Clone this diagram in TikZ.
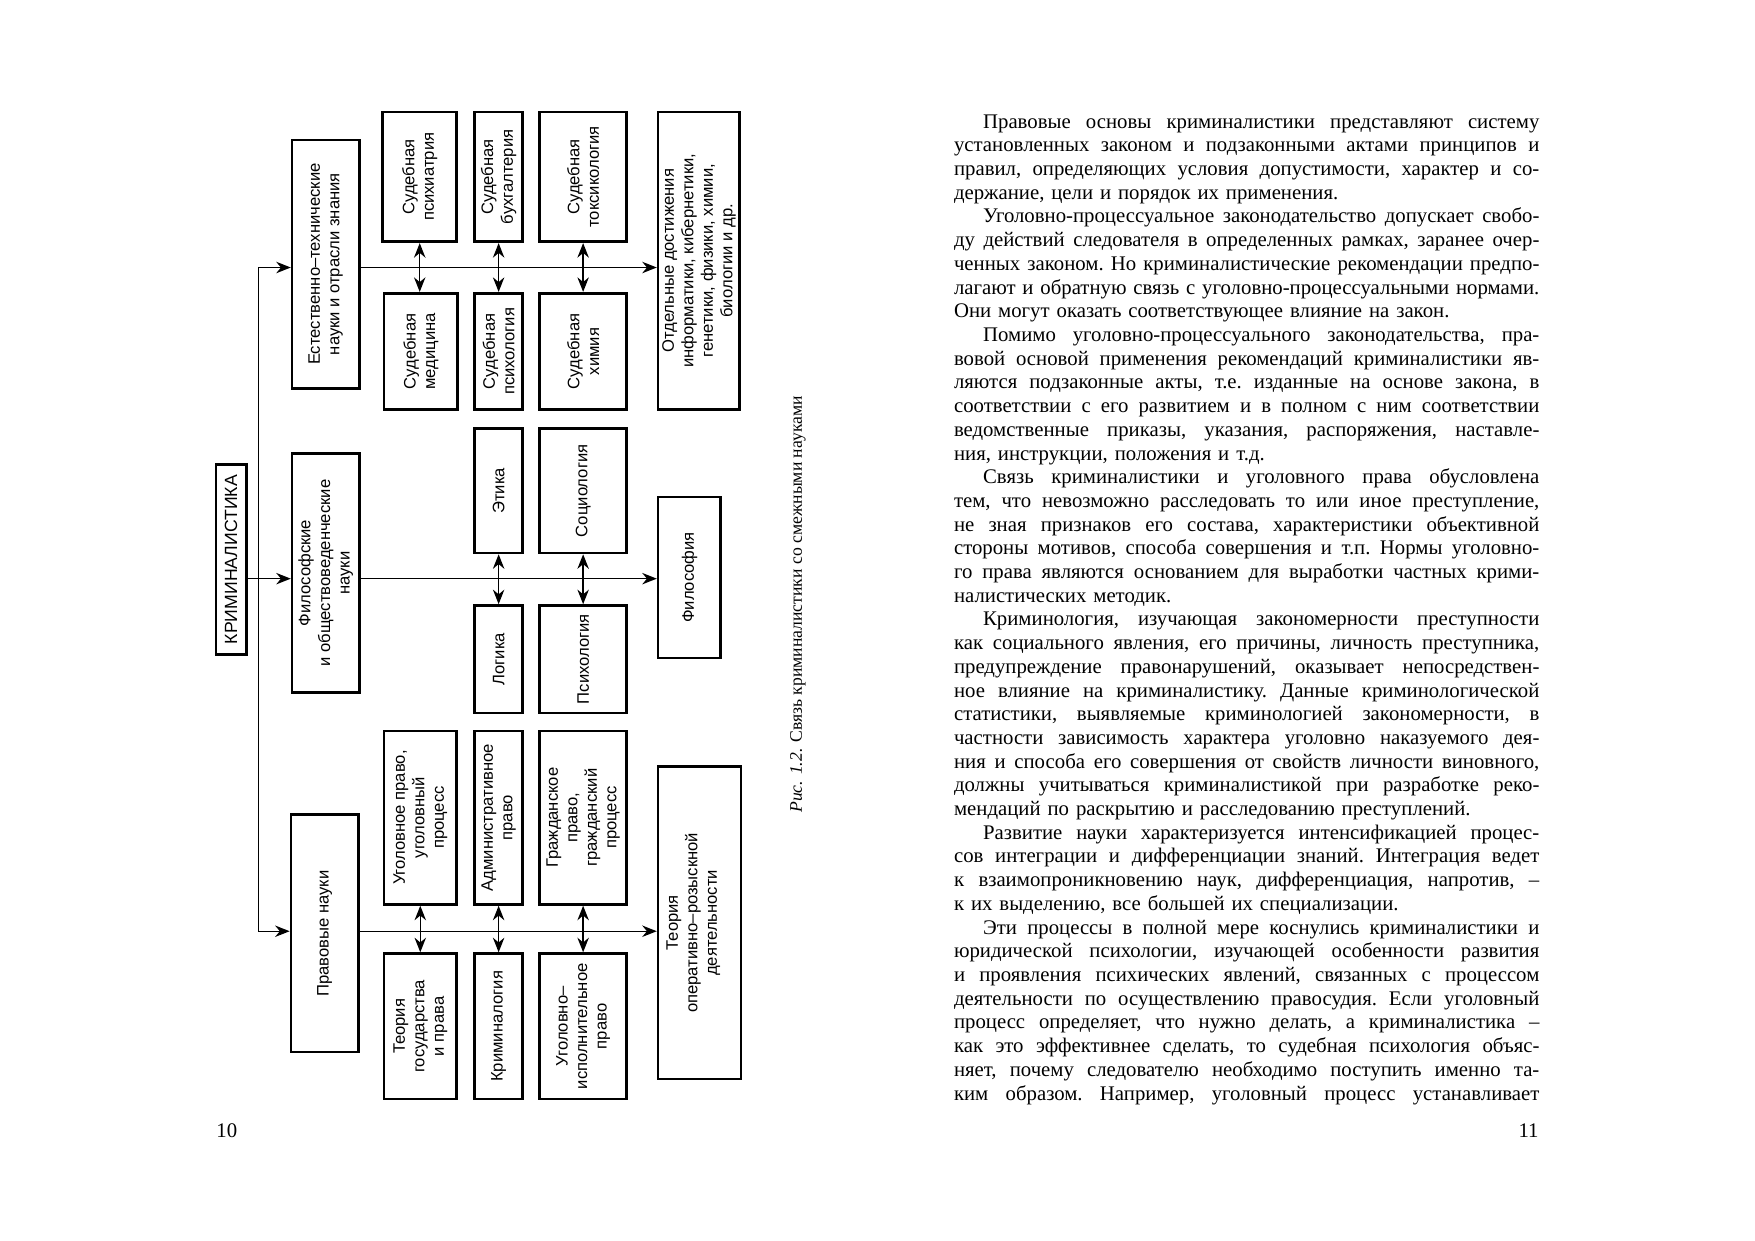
\documentclass[tikz,border=0pt]{standalone}
\usepackage{fontspec}
\setmainfont{Liberation Serif}
\setsansfont{Liberation Sans}
\usetikzlibrary{arrows.meta}
\newdimen\pu \pu=0.0189413cm
\newdimen\bodywd \bodywd=523\pu
\newcommand\jline[1]{\hbox to\bodywd{\spaceskip=0.25em plus 0.6em minus 0.08em\relax #1}}
\newcommand\eline[1]{\hbox to\bodywd{#1\hfil}}
\newcommand\firstind{\hskip 26\pu}
\tikzset{
  box/.style={draw, line width=1.3pt, rotate=90, inner sep=0pt, align=center,
    font=\sffamily\fontsize{8}{9.4}\selectfont},
  link/.style={line width=0.7pt, line join=miter, -{Stealth[length=7pt,width=5.5pt]}},
  twoway/.style={line width=0.7pt, {Stealth[length=7pt,width=5.5pt]}-{Stealth[length=7pt,width=5.5pt]}}
}
\begin{document}
\begin{tikzpicture}[x=0.0189413cm, y=-0.0189413cm]
    \useasboundingbox (0,0) rectangle (1568,1108);
    \fill[white] (0,0) rectangle (1568,1108);

    % left page: scheme
    \node[box, font=\sffamily\fontsize{8.5}{10}\selectfont, minimum width=170\pu, minimum height=27\pu] (krim) at (206.5,500) {КРИМИНАЛИСТИКА};

    \node[box, minimum width=222\pu, minimum height=60\pu] (est) at (291,236) {Естественно–технические\\науки и отрасли знания};
    \node[box, minimum width=214\pu, minimum height=60\pu] (fil) at (291,512) {Философские\\и обществоведенческие\\науки};
    \node[box, minimum width=212\pu, minimum height=60\pu] (prav) at (290,834) {Правовые науки};

    \node[box, minimum width=116\pu, minimum height=66\pu] (psych) at (375,158) {Судебная\\психиатрия};
    \node[box, minimum width=104\pu, minimum height=66\pu] (med) at (376,314) {Судебная\\медицина};
    \node[box, minimum width=116\pu, minimum height=43\pu] (buh) at (445.5,158) {Судебная\\бухгалтерия};
    \node[box, minimum width=104\pu, minimum height=43\pu] (spsy) at (445.5,314) {Судебная\\психология};
    \node[box, minimum width=116\pu, minimum height=78\pu] (tox) at (521,158) {Судебная\\токсикология};
    \node[box, minimum width=104\pu, minimum height=78\pu] (chem) at (521,314) {Судебная\\химия};
    \node[box, minimum width=266\pu, minimum height=73\pu] (otd) at (624.5,233) {Отдельные достижения\\информатики, кибернетики,\\генетики, физики, химии,\\биологии и др.};

    \node[box, minimum width=111\pu, minimum height=43\pu] (etika) at (445.5,438.5) {Этика};
    \node[box, minimum width=96\pu, minimum height=43\pu] (logika) at (445.5,589) {Логика};
    \node[box, minimum width=111\pu, minimum height=78\pu] (soc) at (521,438.5) {Социология};
    \node[box, minimum width=96\pu, minimum height=78\pu] (psy) at (521,589) {Психология};
    \node[box, minimum width=144\pu, minimum height=56\pu] (filo) at (616,516) {Философия};

    \node[box, minimum width=155\pu, minimum height=65\pu] (ugp) at (375.5,730.5) {Уголовное право,\\уголовный\\процесс};
    \node[box, minimum width=130\pu, minimum height=65\pu] (tgp) at (375.5,917) {Теория\\государства\\и права};
    \node[box, minimum width=155\pu, minimum height=43\pu] (adm) at (445.5,730.5) {Административное\\право};
    \node[box, minimum width=130\pu, minimum height=43\pu] (krmg) at (445.5,917) {Криминалогия};
    \node[box, minimum width=155\pu, minimum height=78\pu] (gp) at (521,730.5) {Гражданское\\право,\\гражданский\\процесс};
    \node[box, minimum width=130\pu, minimum height=78\pu] (uip) at (521,917) {Уголовно–\\исполнительное\\право};
    \node[box, minimum width=279\pu, minimum height=74\pu] (ord) at (625,824.5) {Теория\\оперативно–розыскной\\деятельности\\[-1.8pt]\mbox{}};

    \coordinate (rowA) at (0,239);
    \coordinate (rowB) at (0,517);
    \coordinate (rowC) at (0,832);
    \coordinate (trunk) at (231,0);

    \draw[link] (krim.south |- rowB) -- (fil.north |- rowB);
    \draw[link] (trunk |- rowB) -- (trunk |- rowA) -- (est.north |- rowA);
    \draw[link] (trunk |- rowB) -- (trunk |- rowC) -- (prav.north |- rowC);

    \draw[link] (est.south |- rowA) -- (otd.north |- rowA);
    \draw[link] (fil.south |- rowB) -- (filo.north |- rowB);
    \draw[link] (prav.south |- rowC) -- (ord.north |- rowC);

    \draw[twoway] (psych.west) -- (psych.west |- med.east);
    \draw[twoway] (buh.west) -- (spsy.east);
    \draw[twoway] (tox.west) -- (chem.east);
    \draw[twoway] (etika.west) -- (logika.east);
    \draw[twoway] (soc.west) -- (psy.east);
    \draw[twoway] (ugp.west) -- (tgp.east);
    \draw[twoway] (adm.west) -- (krmg.east);
    \draw[twoway] (gp.west) -- (uip.east);

    \node[rotate=90, font=\fontsize{8.5}{10}\selectfont] (cap) at (713,540) {\textit{Рис. 1.2.} Связь криминалистики со смежными науками};

    \node[anchor=base west, inner sep=0pt, font=\fontsize{10}{12}\selectfont] (pagel) at (193,1016) {10};

    % right page: text
    \node[anchor=north west, inner sep=0pt, text width=523\pu, font=\fontsize{10}{11.41}\selectfont\frenchspacing] (body) at (852,102) {%
\jline{\firstind Правовые основы криминалистики представляют систему}
\jline{установленных законом и подзаконными актами принципов и}
\jline{правил, определяющих условия допустимости, характер и со-}
\eline{держание, цели и порядок их применения.}
\jline{\firstind Уголовно-процессуальное законодательство допускает свобо-}
\jline{ду действий следователя в определенных рамках, заранее очер-}
\jline{ченных законом. Но криминалистические рекомендации предпо-}
\jline{лагают и обратную связь с уголовно-процессуальными нормами.}
\eline{Они могут оказать соответствующее влияние на закон.}
\jline{\firstind Помимо уголовно-процессуального законодательства, пра-}
\jline{вовой основой применения рекомендаций криминалистики яв-}
\jline{ляются подзаконные акты, т.е. изданные на основе закона, в}
\jline{соответствии с его развитием и в полном с ним соответствии}
\jline{ведомственные приказы, указания, распоряжения, наставле-}
\eline{ния, инструкции, положения и т.д.}
\jline{\firstind Связь криминалистики и уголовного права обусловлена}
\jline{тем, что невозможно расследовать то или иное преступление,}
\jline{не зная признаков его состава, характеристики объективной}
\jline{стороны мотивов, способа совершения и т.п. Нормы уголовно-}
\jline{го права являются основанием для выработки частных крими-}
\eline{налистических методик.}
\jline{\firstind Криминология, изучающая закономерности преступности}
\jline{как социального явления, его причины, личность преступника,}
\jline{предупреждение правонарушений, оказывает непосредствен-}
\jline{ное влияние на криминалистику. Данные криминологической}
\jline{статистики, выявляемые криминологией закономерности, в}
\jline{частности зависимость характера уголовно наказуемого дея-}
\jline{ния и способа его совершения от свойств личности виновного,}
\jline{должны учитываться криминалистикой при разработке реко-}
\eline{мендаций по раскрытию и расследованию преступлений.}
\jline{\firstind Развитие науки характеризуется интенсификацией процес-}
\jline{сов интеграции и дифференциации знаний. Интеграция ведет}
\jline{к взаимопроникновению наук, дифференциация, напротив, –}
\eline{к их выделению, все большей их специализации.}
\jline{\firstind Эти процессы в полной мере коснулись криминалистики и}
\jline{юридической психологии, изучающей особенности развития}
\jline{и проявления психических явлений, связанных с процессом}
\jline{деятельности по осуществлению правосудия. Если уголовный}
\jline{процесс определяет, что нужно делать, а криминалистика –}
\jline{как это эффективнее сделать, то судебная психология объяс-}
\jline{няет, почему следователю необходимо поступить именно та-}
\jline{ким образом. Например, уголовный процесс устанавливает}};

    \node[anchor=base east, inner sep=0pt, font=\fontsize{10}{12}\selectfont] (pager) at (1375,1016) {11};
\end{tikzpicture}
\end{document}
